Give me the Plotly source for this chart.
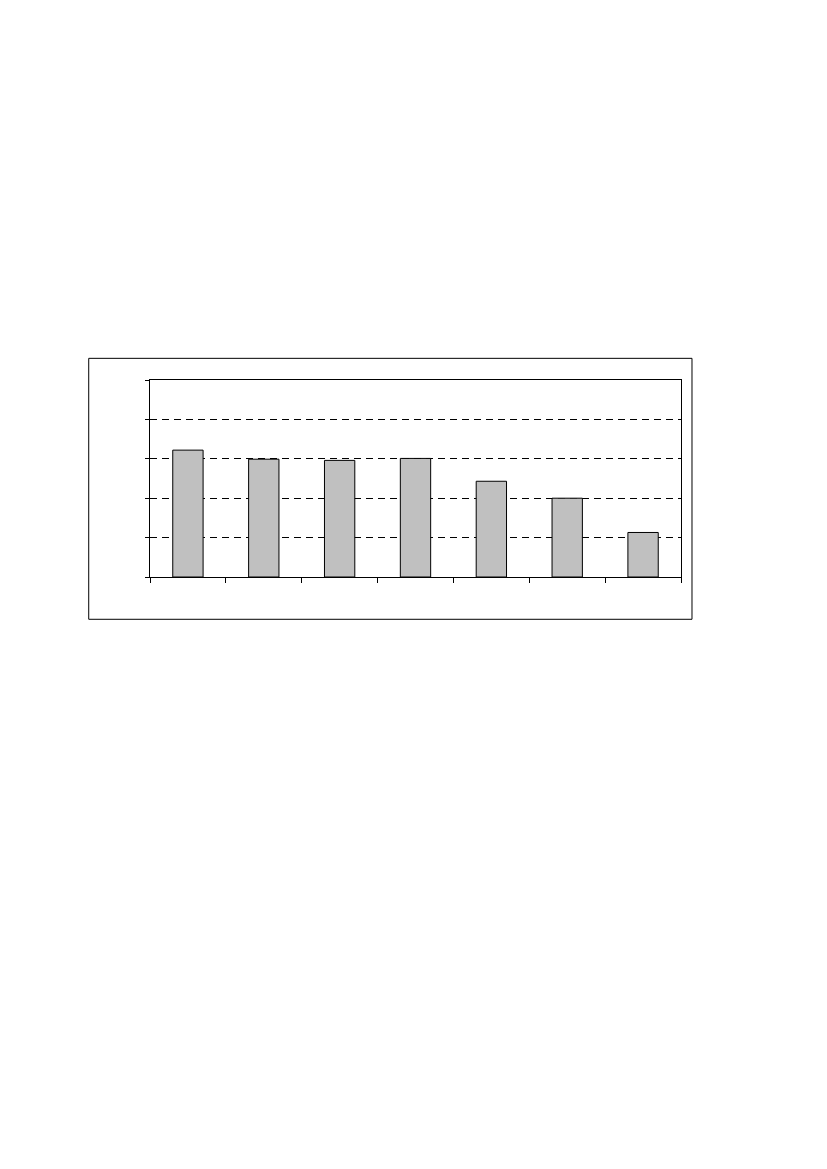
import plotly.graph_objects as go

# =========================
# DADOS
# =========================
categories = [0, 1, 2, 3, 4, 5, 6]
values = [3.22, 2.99, 2.96, 3.01, 2.43, 2.0, 1.13]
boundaries = [-0.5, 0.5, 1.5, 2.5, 3.5, 4.5, 5.5, 6.5]
y_ticks = [0, 1, 2, 3, 4, 5]

fig = go.Figure()

fig.add_trace(go.Bar(
    x=categories,
    y=values,
    width=0.4,
    marker=dict(color="#C0C0C0", line=dict(color="black", width=1)),
))

# moldura externa do gráfico
fig.add_shape(type="rect", xref="paper", yref="paper",
              x0=-0.1154, x1=1.0207, y0=-0.2147, y1=1.110,
              line=dict(color="black", width=1), fillcolor="rgba(0,0,0,0)")

fig.update_xaxes(
    range=[-0.5, 6.5],
    tickmode="array", tickvals=boundaries,
    showticklabels=False,
    ticks="outside", ticklen=5, tickcolor="black", tickwidth=1,
    showline=True, linecolor="black", linewidth=1, mirror=True,
    showgrid=False, zeroline=False,
)

fig.update_yaxes(
    range=[0, 5],
    tickmode="array", tickvals=y_ticks,
    showticklabels=False,
    ticks="outside", ticklen=4, tickcolor="black", tickwidth=1,
    showline=True, linecolor="black", linewidth=1, mirror=True,
    showgrid=True, gridcolor="black", gridwidth=1, griddash="7px,5px",
    zeroline=False,
)

# body do html tem margem de 8px
fig.update_layout(
    width=827, height=1169,
    margin=dict(l=142, r=154, t=372, b=600),
    plot_bgcolor="white", paper_bgcolor="white",
    showlegend=False,
)

fig.write_html("out.html")
